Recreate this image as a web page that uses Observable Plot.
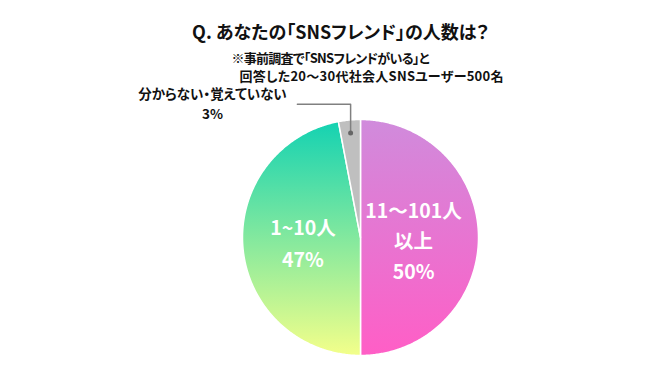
<!DOCTYPE html>
<html><head><meta charset="utf-8">
<script src="https://cdn.jsdelivr.net/npm/d3@7"></script>
<script src="https://cdn.jsdelivr.net/npm/@observablehq/plot@0.6"></script>
<style>
html,body{margin:0;padding:0;background:#fff;}
#chart{width:670px;height:377px;overflow:hidden;}
svg{font-family:"Noto Sans CJK JP","Noto Sans",sans-serif;font-feature-settings:"palt";}
</style></head><body><div id="chart"></div>
<script>
const title = "Q. あなたの「SNSフレンド」の人数は？";
const subtitleLines = ["※事前調査で「SNSフレンドがいる」と", "回答した20～30代社会人SNSユーザー500名"];
const categories = ["11～101人以上", "1~10人", "分からない・覚えていない"];
const values = [50, 47, 3];
const insideLabels = ["11～101人\n以上\n50%", "1~10人\n47%", null];
const outsideName = "分からない・覚えていない";
const outsideValue = "3%";

const fills = ["url(#gPink)", "url(#gTeal)", "#bfbfbf"];
const cx = 360, cy = 237, r = 118;

const arcs = d3.pie().sort(null).value(d => d)(values);
const slices = arcs.map((a, i) => {
  const pts = [{x: 0, y: 0}];
  const n = Math.max(2, Math.ceil((a.endAngle - a.startAngle) / 0.01));
  for (let k = 0; k <= n; k++) {
    const t = a.startAngle + (a.endAngle - a.startAngle) * k / n;
    pts.push({x: Math.sin(t), y: Math.cos(t)});
  }
  pts.push({x: 0, y: 0});
  return {category: categories[i], points: pts, mid: (a.startAngle + a.endAngle) / 2};
});
const labelRadius = [0.45, 0.49, 0];
const inside = slices.map((s, i) => ({
  text: insideLabels[i],
  x: Math.sin(s.mid) * labelRadius[i],
  y: Math.cos(s.mid) * labelRadius[i]
})).filter(d => d.text);

const g = slices[2];
const dot = {x: Math.sin(g.mid) * 0.89, y: Math.cos(g.mid) * 0.89};
const elbowY = 1.13;
const leader = [{x: -0.535, y: elbowY}, {x: dot.x, y: elbowY}, dot];
const outX = -1.255;

const svg = Plot.plot({
  width: 670, height: 377, margin: 0,
  style: {background: "#fff", overflow: "visible"},
  x: {domain: [-1, 1], range: [cx - r, cx + r], axis: null},
  y: {domain: [-1, 1], range: [cy + r, cy - r], axis: null},
  marks: [
    ...slices.map((s, i) => Plot.line(s.points, {x: "x", y: "y", fill: fills[i], stroke: "white", strokeWidth: 1.5, strokeLinejoin: "round", curve: "linear"})),
    Plot.line(leader, {x: "x", y: "y", stroke: "#808080", strokeWidth: 1.5}),
    Plot.dot([dot], {x: "x", y: "y", r: 2.5, fill: "#666666", stroke: "none"}),
    Plot.text(inside.slice(0, 1), {x: "x", y: "y", dy: 1, text: "text", fill: "white", fontSize: 19.5, fontWeight: "bold", lineHeight: 1.57}),
    Plot.text(inside.slice(1), {x: "x", y: "y", dy: -2, text: "text", fill: "white", fontSize: 19.5, fontWeight: "bold", lineHeight: 1.6}),
    Plot.text([outsideName], {x: () => outX, y: () => 1.21, text: d => d, fill: "#111", fontSize: 13.5, fontWeight: "bold"}),
    Plot.text([outsideValue], {x: () => outX, y: () => 1.04, text: d => d, fill: "#111", fontSize: 13.5, fontWeight: "bold"}),
    Plot.text([title], {frameAnchor: "top", dx: 5, dy: 26, fill: "#111", fontSize: 18, fontWeight: "bold"}),
    Plot.text([subtitleLines[0]], {frameAnchor: "top-left", textAnchor: "start", dx: 231, dy: 53, fill: "#111", fontSize: 13, fontWeight: "bold"}),
    Plot.text([subtitleLines[1]], {frameAnchor: "top-left", textAnchor: "start", dx: 239, dy: 71, fill: "#111", fontSize: 13, fontWeight: "bold"})
  ]
});

const defs = d3.select(svg).insert("defs", ":first-child");
function grad(id, top, bottom) {
  const lg = defs.append("linearGradient").attr("id", id).attr("x1", 0).attr("y1", 0).attr("x2", 0).attr("y2", 1);
  lg.append("stop").attr("offset", "0%").attr("stop-color", top);
  lg.append("stop").attr("offset", "100%").attr("stop-color", bottom);
}
grad("gPink", "#d08bdc", "#ff5ec6");
grad("gTeal", "#14d2b2", "#f3ff8a");

d3.select(svg).selectAll("text").each(function() {
  const t = this.textContent;
  if (t === subtitleLines[0]) { this.setAttribute("textLength", 198); this.setAttribute("lengthAdjust", "spacing"); }
  if (t === subtitleLines[1]) { this.setAttribute("textLength", 264); this.setAttribute("lengthAdjust", "spacing"); }
});

document.getElementById("chart").appendChild(svg);
</script>
</body></html>
